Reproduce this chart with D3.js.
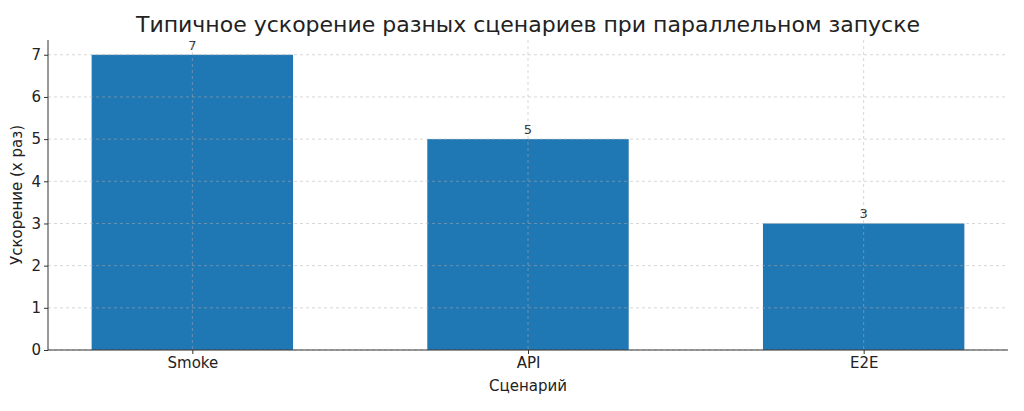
<!DOCTYPE html>
<html><head><meta charset="utf-8">
<script src="https://cdn.jsdelivr.net/npm/d3@7"></script>
<style>body{margin:0;background:#fff}text{font-family:"DejaVu Sans",sans-serif}</style>
</head><body><svg id="c" width="1024" height="411"></svg>
<script>
const categories=["Smoke","API","E2E"];
const values=[7,5,3];
const yTicks=[0,1,2,3,4,5,6,7];
const title="Типичное ускорение разных сценариев при параллельном запуске";
const xLabel="Сценарий", yLabel="Ускорение (х раз)";

const svg=d3.select("#c");
const L=48,R=1008,T=40,B=350;
const y=d3.scaleLinear().domain([0,7.35]).range([B,T]);
const x=d3.scaleLinear().domain([-0.43,2.43]).range([L,R]);
const bw=x(0.3)-x(-0.3);

categories.forEach((c,i)=>{
  svg.append("rect").attr("x",x(i)-bw/2).attr("y",y(values[i])).attr("width",bw)
    .attr("height",y(0)-y(values[i])).attr("fill","#1f77b4");
  svg.append("text").attr("x",x(i)).attr("y",y(values[i])-5).attr("text-anchor","middle")
    .attr("font-size",13).attr("fill","#333").text(values[i]);
});
// grid
const g=svg.append("g").attr("stroke","#b0b0b0").attr("stroke-opacity",0.5).attr("stroke-dasharray","3,3");
yTicks.forEach(t=>g.append("line").attr("x1",L).attr("x2",R).attr("y1",y(t)).attr("y2",y(t)));
categories.forEach((c,i)=>g.append("line").attr("x1",x(i)).attr("x2",x(i)).attr("y1",T).attr("y2",B));

const ya=svg.append("g").attr("transform",`translate(${L},0)`)
  .call(d3.axisLeft(y).tickValues(yTicks).tickFormat(d3.format("d")).tickSize(4));
ya.select(".domain").remove();
const xa=svg.append("g").attr("transform",`translate(0,${B})`)
  .call(d3.axisBottom(x).tickValues([0,1,2]).tickFormat(i=>categories[i]).tickSize(4));
xa.select(".domain").remove();
[ya,xa].forEach(a=>{a.selectAll("text").attr("font-size",15).attr("fill","#222");a.selectAll("line").attr("stroke","#333")});
svg.append("line").attr("x1",L).attr("x2",L).attr("y1",T).attr("y2",B).attr("stroke","#333");
svg.append("line").attr("x1",L).attr("x2",R).attr("y1",B).attr("y2",B).attr("stroke","#333");

svg.append("text").attr("x",528).attr("y",32).attr("text-anchor","middle").attr("font-size",22).attr("fill","#222").text(title);
svg.append("text").attr("x",528).attr("y",391).attr("text-anchor","middle").attr("font-size",15).attr("fill","#222").text(xLabel);
svg.append("text").attr("transform","translate(22,195) rotate(-90)").attr("text-anchor","middle").attr("font-size",15).attr("fill","#222").text(yLabel);
</script></body></html>
